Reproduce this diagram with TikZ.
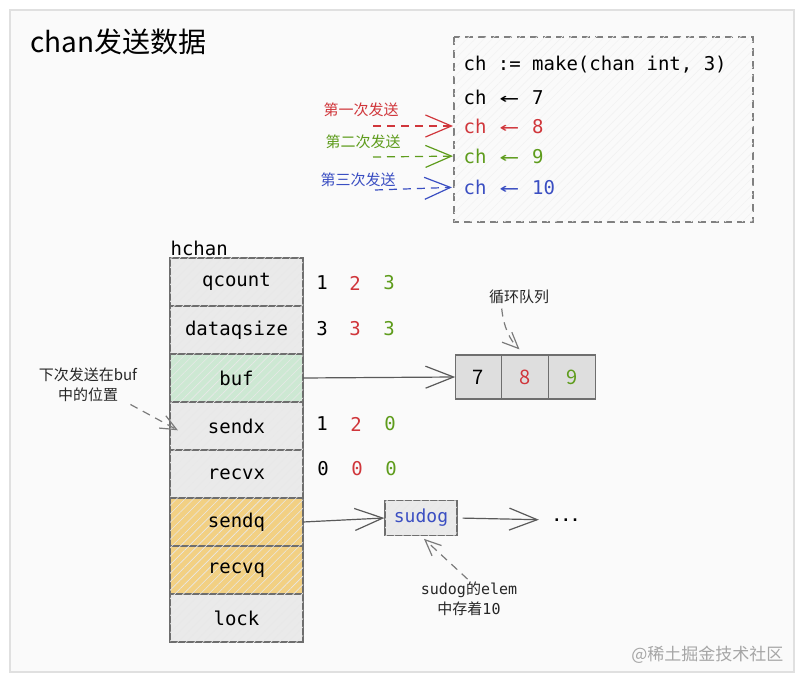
\documentclass[tikz,border=0pt]{standalone}
\usepackage{fontspec}
\usepackage{graphicx}
\setmainfont{Noto Sans CJK SC}
\setmonofont{DejaVu Sans Mono}
\newfontfamily\cjkfont{Noto Sans CJK SC}
\usetikzlibrary{arrows.meta, positioning, patterns.meta}
\definecolor{cred}{HTML}{D0363B}
\definecolor{cgreen}{HTML}{5E9C1C}
\definecolor{cblue}{HTML}{3A4EC2}
\definecolor{cgrey}{HTML}{5A5A5A}
\definecolor{cline}{HTML}{6E6E6E}
\definecolor{cfield}{HTML}{EAEAEA}
\definecolor{cbuf}{HTML}{CDE8D3}
\definecolor{cqueue}{HTML}{F2D083}
\definecolor{ccell}{HTML}{DEDEDE}
\newcommand{\codesize}{\fontsize{19}{22}\selectfont}
\newcommand{\notesize}{\fontsize{15}{20}\selectfont}
% "<-" drawn as one long arrow over two character cells
\newcommand{\chanarrow}{\makebox[2\fontcharwd\font`0][c]{\scalebox{1.7}[1]{←}}}
\tikzset{
  every picture/.style={line width=1.2pt},
  hatch/.style={postaction={pattern={Lines[angle=45, distance=6pt, line width=0.6pt]}, pattern color=#1}},
  hatch/.default=black!9,
  field/.style={draw=cline, fill=#1, hatch, minimum width=133pt, minimum height=48pt,
    inner sep=0pt, outer sep=0pt, font=\ttfamily\codesize},
  field/.default=cfield,
  cell/.style={draw=cline, fill=ccell, minimum width=46.7pt, minimum height=44pt,
    inner sep=0pt, outer sep=0pt, font=\fontsize{20}{24}\selectfont},
  code/.style={anchor=west, inner sep=0pt, font=\ttfamily\codesize, text=#1},
  code/.default=black,
  num/.style={inner sep=0pt, font=\ttfamily\codesize, text=#1},
  num/.default=black,
  note/.style={font=\notesize, align=center, text=#1, inner sep=1pt},
  note/.default=black!85,
  arrow/.style={-{Straight Barb[length=28pt, width=22pt]}, draw=cgrey},
  sendarrow/.style={-{Straight Barb[length=26pt, width=22pt]}, draw=#1, dashed, dash pattern=on 8pt off 6pt},
  pointer/.style={-{Straight Barb[length=16pt, width=14pt]}, draw=cgrey!80, dash pattern=on 8pt off 6pt},
}
\begin{document}
\begin{tikzpicture}[x=1pt, y=-1pt]
  \useasboundingbox (0,0) rectangle (804,684);
  \fill[white] (0,0) rectangle (804,684);
  \draw[draw=black!12, fill=black!2, line width=1.5pt] (10,10) rectangle (794,672);
  \node[anchor=west, inner sep=0pt, font=\fontsize{28}{32}\selectfont] (title) at (30,42) {chan发送数据};

  % code box
  \draw[draw=black!50, dash pattern=on 8pt off 5pt, fill=black!2, hatch=black!5] (454,37) rectangle (753,222);
  \node[code] (make) at (463,65) {ch := make(chan int, 3)};
  \node[code] (send7) at (463,97) {ch \chanarrow{} 7};
  \node[code=cred] (send8) at (463,126) {ch \chanarrow{} 8};
  \node[code=cgreen] (send9) at (463,156) {ch \chanarrow{} 9};
  \node[code=cblue] (send10) at (463,187) {ch \chanarrow{} 10};

  \node[note=cred] (first) at (361,110) {第一次发送};
  \node[note=cgreen] (second) at (363,142) {第二次发送};
  \node[note=cblue] (third) at (358,180) {第三次发送};
  \coordinate (firsttail) at (373,126);
  \coordinate (secondtail) at (373,157);
  \coordinate (thirdtail) at (375,190);
  \draw[sendarrow=cred, shorten >=10pt] (firsttail) -- (send8.west);
  \draw[sendarrow=cgreen, shorten >=10pt] (secondtail) -- (send9.west);
  \draw[sendarrow=cblue, shorten >=11pt] (thirdtail) -- (send10.west);

  % hchan
  \node[anchor=south west, inner sep=0pt, font=\ttfamily\codesize] (hchan) at (170,256) {hchan};
  \node[field] (qcount) at (236.5,282) {qcount};
  \node[field, below=0pt of qcount] (dataqsize) {dataqsize};
  \node[field=cbuf, below=0pt of dataqsize] (buf) {buf};
  \node[field, below=0pt of buf] (sendx) {sendx};
  \node[field, below=0pt of sendx] (recvx) {recvx};
  \node[field=cqueue, below=0pt of recvx] (sendq) {sendq};
  \node[field=cqueue, below=0pt of sendq] (recvq) {recvq};
  \node[field, below=0pt of recvq] (lock) {lock};

  \node[num] (qc1) at (322,283) {1}; \node[num=cred] (qc2) at (355,283) {2}; \node[num=cgreen] (qc3) at (389,283) {3};
  \node[num] (ds1) at (322,329) {3}; \node[num=cred] (ds2) at (355,329) {3}; \node[num=cgreen] (ds3) at (389,329) {3};
  \node[num] (sx1) at (322,424) {1}; \node[num=cred] (sx2) at (356,424) {2}; \node[num=cgreen] (sx3) at (390,424) {0};
  \node[num] (rx1) at (323,469) {0}; \node[num=cred] (rx2) at (357,469) {0}; \node[num=cgreen] (rx3) at (391,469) {0};

  % circular buffer
  \node[cell] (q7) at (478.5,377) {7};
  \node[cell, right=0pt of q7, text=cred] (q8) {8};
  \node[cell, right=0pt of q8, text=cgreen] (q9) {9};
  \draw[arrow] (buf.east) -- (q7.west);
  \node[note] (ring) at (519,297) {循环队列};
  \draw[pointer, shorten <=3pt, shorten >=8pt] (ring.south west) ++(14pt,0) to[bend right=20] (q8.north);

  \node[note] (nextpos) at (88,385) {下次发送在buf\\中的位置};
  \draw[pointer, shorten <=2pt, shorten >=-9pt] (nextpos.south east) ++(-10pt,0) -- (sendx.west);

  % send queue
  \node[draw=cline, fill=cfield, hatch, minimum width=72pt, minimum height=35pt, inner sep=0pt,
    font=\ttfamily\fontsize{18}{22}\selectfont, text=cblue] (sudog) at (421,518) {sudog};
  \node[inner sep=0pt, font=\ttfamily\bfseries\fontsize{15}{18}\selectfont] (dots) at (566,520) {...};
  \draw[arrow] (sendq.east) -- (sudog.west);
  \draw[arrow, shorten <=5pt, shorten >=13pt] (sudog.east) -- (dots.west);
  \node[note] (elem) at (469,599) {{\ttfamily sudog}的{\ttfamily elem}\\中存着{\ttfamily 10}};
  \draw[pointer, shorten <=2pt, shorten >=4pt] (elem.north) -- (sudog.south);

  \node[anchor=east, inner sep=0pt, text=black!35, font=\fontsize{17}{20}\selectfont] (mark) at (784,655) {@稀土掘金技术社区};
\end{tikzpicture}
\end{document}
